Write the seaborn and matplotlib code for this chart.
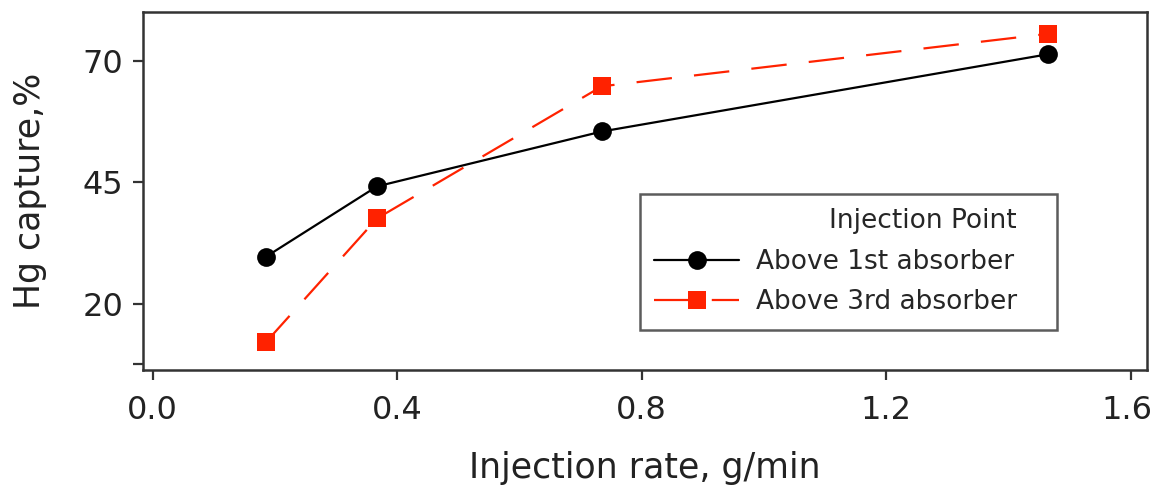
import matplotlib
matplotlib.use("Agg")
import matplotlib.pyplot as plt
import matplotlib.transforms as mtransforms
import pandas as pd
import seaborn as sns

rate = [0.185, 0.367, 0.735, 1.465]
above_1st = [29.7, 44.2, 55.5, 71.4]
above_3rd = [12.1, 37.6, 64.8, 75.6]
series_names = ["Above 1st absorber", "Above 3rd absorber"]

data = pd.DataFrame({
    "Injection rate, g/min": rate * 2,
    "Hg capture,%": above_1st + above_3rd,
    "Injection Point": [series_names[0]] * 4 + [series_names[1]] * 4,
})

sns.set_theme(style="white")
plt.rcParams["font.family"] = ["DejaVu Sans"]

fig, ax = plt.subplots(figsize=(11.53, 4.91), dpi=100)
fig.subplots_adjust(left=0.124, right=0.9948, top=0.9756, bottom=0.2464)

sns.lineplot(
    data=data,
    x="Injection rate, g/min",
    y="Hg capture,%",
    hue="Injection Point",
    style="Injection Point",
    palette={series_names[0]: "black", series_names[1]: "#ff2200"},
    markers={series_names[0]: "o", series_names[1]: "s"},
    dashes={series_names[0]: "", series_names[1]: (16, 10)},
    markersize=13.5,
    markeredgewidth=0,
    linewidth=1.6,
    ax=ax,
)

ax.set_xlim(-0.016, 1.627)
ax.set_ylim(6.4, 80.1)
ax.set_xticks([0.0, 0.4, 0.8, 1.2, 1.6])
ax.set_xticklabels(["0.0", "0.4", "0.8", "1.2", "1.6"])
ax.set_yticks([7.6, 20, 45, 70])
ax.set_yticklabels(["", "20", "45", "70"])
ax.tick_params(axis="both", direction="out", length=7, width=1.6, color="#333333",
               labelsize=23, left=True, bottom=True, labelcolor="#222222")
ax.tick_params(axis="x", pad=11)
ax.tick_params(axis="y", pad=7)
for sp in ax.spines.values():
    sp.set_color("#333333")
    sp.set_linewidth(1.8)

# keep the last x label inside the canvas
last = ax.get_xticklabels()[-1]
last.set_transform(last.get_transform() + mtransforms.ScaledTranslation(-4 / 100, 0, fig.dpi_scale_trans))

ax.set_xlabel("Injection rate, g/min", fontsize=25, labelpad=18, color="#222222")
ax.set_ylabel("Hg capture,%", fontsize=25, labelpad=26, color="#222222")

# trailing spaces give the wider right-hand margin seen in the reference legend
handles, labels = ax.get_legend_handles_labels()
leg = ax.legend(
    handles,
    [lab + "   " for lab in labels],
    title="Injection Point   ",
    loc="lower right",
    bbox_to_anchor=(0.910, 0.112),
    borderaxespad=0,
    fontsize=19,
    title_fontsize=19,
    frameon=True,
    fancybox=False,
    edgecolor="#333333",
    handlelength=3.2,
    handletextpad=0.65,
    borderpad=0.55,
    labelspacing=0.55,
)
leg.get_frame().set_linewidth(1.8)
leg._legend_box.align = "right"

fig.savefig("out.png", dpi=100)
